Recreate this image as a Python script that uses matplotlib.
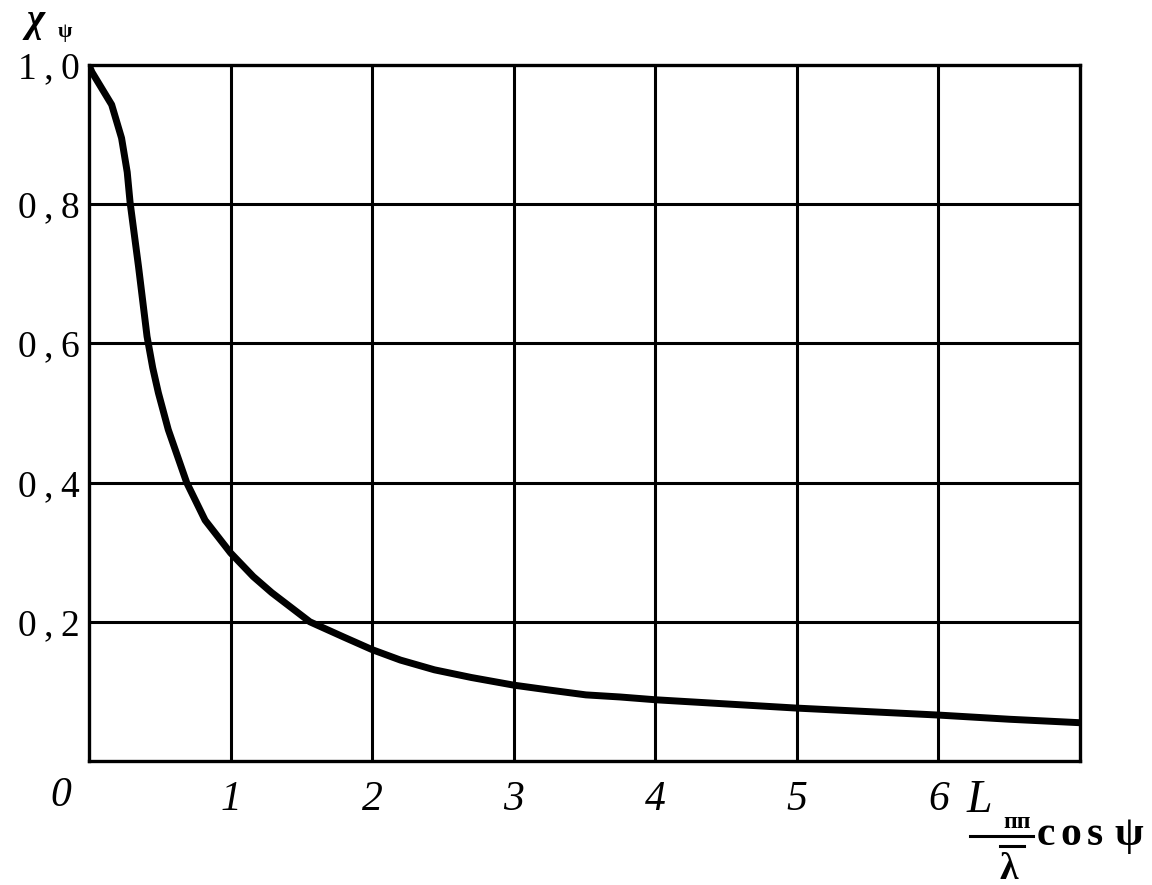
import matplotlib
matplotlib.use("Agg")
import matplotlib.pyplot as plt
from matplotlib.lines import Line2D

# values
x_vals = [0.0, 0.02, 0.16, 0.23, 0.27, 0.29, 0.35, 0.41, 0.45, 0.49, 0.56,
          0.69, 0.82, 1.0, 1.16, 1.29, 1.56, 1.8, 2.0, 2.2, 2.44, 2.7, 3.0,
          3.25, 3.51, 3.75, 4.0, 4.5, 5.0, 5.5, 6.0, 6.5, 7.0]
y_vals = [1.0, 0.99, 0.943, 0.895, 0.846, 0.803, 0.71, 0.61, 0.565, 0.529,
          0.476, 0.40, 0.346, 0.299, 0.265, 0.242, 0.20, 0.178, 0.16, 0.145,
          0.131, 0.12, 0.109, 0.102, 0.095, 0.092, 0.088, 0.082, 0.076,
          0.071, 0.066, 0.060, 0.055]

x_ticks = [1, 2, 3, 4, 5, 6]
x_tick_labels = ["1", "2", "3", "4", "5", "6"]
y_ticks = [0.2, 0.4, 0.6, 0.8, 1.0]
y_tick_labels = ["0\u2009,\u20092", "0\u2009,\u20094", "0\u2009,\u20096",
                 "0\u2009,\u20098", "1\u2009,\u20090"]

W, H = 1152, 885
SERIF = ["Liberation Serif", "DejaVu Serif"]

fig = plt.figure(figsize=(W / 100, H / 100), dpi=100)
ax = fig.add_axes([89 / W, 1 - 761 / H, (1080 - 89) / W, (761 - 65) / H])

ax.set_xlim(0, 7)
ax.set_ylim(0, 1.0)

# grid drawn as plain lines
for xv in range(1, 7):
    ax.axvline(xv, color="black", lw=2.2, zorder=1)
for yv in y_ticks[:-1]:
    ax.axhline(yv, color="black", lw=2.2, zorder=1)

ax.plot(x_vals, y_vals, color="black", lw=5.0, solid_capstyle="round",
        solid_joinstyle="round", zorder=3)

for s in ax.spines.values():
    s.set_linewidth(2.4)
ax.tick_params(length=0)

ax.set_xticks(x_ticks)
ax.set_xticklabels(x_tick_labels, family=SERIF, style="italic", fontsize=30)
ax.tick_params(axis="x", pad=14)
ax.set_yticks(y_ticks)
ax.set_yticklabels(y_tick_labels, family=SERIF, fontsize=27)
ax.tick_params(axis="y", pad=7)


def px(x, y):
    return x / W, 1 - y / H


# origin label
fig.text(*px(61, 796), "0", family=SERIF, style="italic", fontsize=30,
         ha="center", va="center")

# y-axis label  chi_psi
fig.text(*px(26, 31), "χ", family=SERIF, style="italic", weight="bold",
         fontsize=28, ha="left", va="baseline")
fig.text(*px(58, 37), "ψ", family=SERIF, weight="bold",
         fontsize=15, ha="left", va="baseline")

# x-axis label  L_пп / lambda-bar  cos psi
fig.text(*px(967, 812), "L", family=SERIF, style="italic", fontsize=33,
         ha="left", va="baseline")
fig.text(*px(1003, 828), "пп", family=SERIF, weight="bold", fontsize=17,
         ha="left", va="baseline")
fig.add_artist(Line2D([970 / W, 1033 / W], [1 - 836 / H, 1 - 836 / H],
                      color="black", lw=2.2))
fig.text(*px(999, 879), "λ", family=SERIF, weight="bold", fontsize=27,
         ha="left", va="baseline")
fig.add_artist(Line2D([1000 / W, 1024 / W], [1 - 846 / H, 1 - 846 / H],
                      color="black", lw=2.2))
for ch, cx in zip(["c", "o", "s", "ψ"], [1046, 1071, 1095, 1129]):
    fig.text(*px(cx, 845), ch, family=SERIF, weight="bold", fontsize=30,
             ha="center", va="baseline")

fig.savefig("out.png", dpi=100)
